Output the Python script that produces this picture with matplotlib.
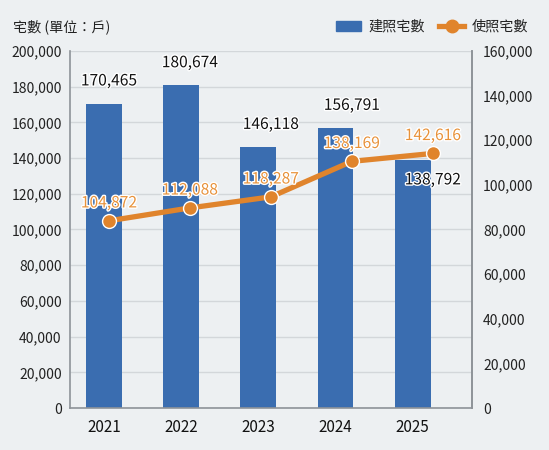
import matplotlib
matplotlib.use("Agg")
import matplotlib.pyplot as plt
import matplotlib.patheffects as pe
from matplotlib.lines import Line2D
from matplotlib.patches import Patch
import numpy as np

plt.rcParams['font.family'] = ['Noto Sans CJK TC', 'DejaVu Sans']
plt.rcParams['font.weight'] = 'medium'

years = ["2021", "2022", "2023", "2024", "2025"]
build_permits = [170465, 180674, 146118, 156791, 138792]   # 建照宅數
use_permits = [104872, 112088, 118287, 138169, 142616]     # 使照宅數
left_ticks = np.arange(0, 200001, 20000)
right_ticks = np.arange(0, 160001, 20000)

BG = "#edf0f2"
BLUE = "#3a6db0"
ORANGE = "#e0842c"
ORANGE_TXT = "#e8923a"

fig = plt.figure(figsize=(5.49, 4.5), dpi=100, facecolor=BG)
ax = fig.add_axes([0.1275, 0.0933, 0.732, 0.7934], facecolor=BG)

x = np.arange(len(years))
# the line (and the labels) sit on a slightly wider spacing than the bars in the original
lx = x * 1.049 + 0.065

ax.bar(x, build_permits, width=0.466, color=BLUE, zorder=2)
ax.plot(lx, use_permits, color=ORANGE, lw=3.8, marker="o", ms=10,
        mfc=ORANGE, mec="white", mew=1.0, zorder=4, solid_capstyle="round")

stroke = [pe.withStroke(linewidth=2, foreground="white")]
# bar value labels; the last one sits inside its bar
bar_dy = [8000, 8000, 8000, 8000, -11000]
for xi, v, dy in zip(lx, build_permits, bar_dy):
    ax.text(xi, v + dy, f"{v:,}", ha="center", va="center" if dy < 0 else "bottom",
            fontsize=11.2, color="#111111", path_effects=stroke, zorder=5)
for xi, v in zip(lx, use_permits):
    ax.text(xi, v + 10000, f"{v:,}", ha="center", va="center",
            fontsize=11.2, color=ORANGE_TXT, path_effects=stroke, zorder=5)

ax.set_xlim(-0.44, 4.767)
ax.set_ylim(0, 200000)
ax.set_yticks(left_ticks)
ax.set_yticklabels([f"{t:,}" for t in left_ticks])
ax.set_xticks(x)
ax.set_xticklabels(years, color="#111111")
ax.tick_params(axis="both", length=0, pad=6, labelsize=10, colors="#222222")
ax.tick_params(axis="x", pad=8, labelsize=11, labelcolor="#111111")
ax.grid(axis="y", color="#d3d7da", lw=1, zorder=0)
ax.set_axisbelow(True)
ax.spines["top"].set_visible(False)
for s in ["left", "bottom", "right"]:
    ax.spines[s].set_color("#8e9398")
    ax.spines[s].set_linewidth(1.2)

ax2 = ax.twinx()
ax2.set_ylim(0, 160000)
ax2.set_yticks(right_ticks)
ax2.set_yticklabels([f"{t:,}" for t in right_ticks])
ax2.tick_params(axis="y", length=0, pad=8, labelsize=10, colors="#222222")
for s in ["top", "left", "bottom"]:
    ax2.spines[s].set_visible(False)
ax2.spines["right"].set_color("#8e9398")
ax2.spines["right"].set_linewidth(1.2)

fig.text(0.023, 0.94, "宅數 (單位：戶)", fontsize=10.2, color="#222222", va="center")

handles = [Patch(color=BLUE),
           Line2D([], [], color=ORANGE, lw=3.8, marker="o", ms=9, mec=ORANGE)]
fig.legend(handles, ["建照宅數", "使照宅數"], loc="center right",
           bbox_to_anchor=(0.985, 0.94), ncol=2, frameon=False, fontsize=10.2,
           handlelength=1.8, handletextpad=0.5, columnspacing=1.0,
           labelcolor="#222222")

fig.savefig("out.png", dpi=100, facecolor=BG)
